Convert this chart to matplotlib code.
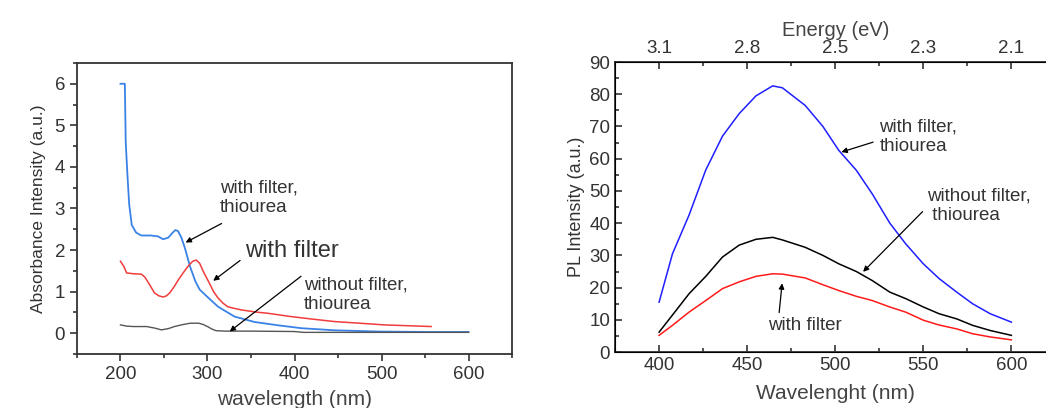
import numpy as np
import matplotlib.pyplot as plt
from matplotlib.ticker import MultipleLocator

plt.rcParams['font.family'] = ['Liberation Sans', 'DejaVu Sans']

# absorbance spectra (left panel)
wl_blue = [200, 205, 206, 208, 210, 213, 218, 224, 235, 243, 249, 255, 260, 263, 266, 270, 274,
           280, 286, 291, 299, 312, 331, 354, 381, 408, 446, 496, 550, 600]
abs_blue = [6.0, 6.0, 4.6, 3.8, 3.1, 2.6, 2.42, 2.35, 2.35, 2.33, 2.26, 2.3, 2.42, 2.48, 2.46, 2.3, 2.05,
            1.6, 1.25, 1.05, 0.89, 0.64, 0.4, 0.27, 0.19, 0.12, 0.07, 0.04, 0.03, 0.03]

wl_red = [200, 204, 207, 215, 224, 228, 234, 239, 244, 249, 253, 257, 262, 267, 272, 278, 283, 287,
          291, 296, 302, 307, 312, 318, 323, 330, 339, 355, 369, 396, 420, 446, 475, 503, 530, 557]
abs_red = [1.73, 1.6, 1.45, 1.43, 1.42, 1.35, 1.15, 0.97, 0.9, 0.87, 0.9, 0.98, 1.13, 1.3, 1.45, 1.62,
           1.73, 1.76, 1.68, 1.45, 1.21, 1.0, 0.85, 0.72, 0.64, 0.6, 0.56, 0.51, 0.48, 0.4, 0.34, 0.28,
           0.24, 0.2, 0.18, 0.16]

wl_gray = [200, 207, 215, 230, 240, 247, 255, 262, 270, 280, 290, 295, 300, 305, 310, 320, 350,
           400, 410, 500, 600]
abs_gray = [0.2, 0.17, 0.16, 0.16, 0.12, 0.08, 0.11, 0.16, 0.2, 0.24, 0.24, 0.21, 0.16, 0.1, 0.06,
            0.05, 0.05, 0.04, 0.02, 0.02, 0.02]

# PL spectra (right panel)
wl_pl = [400, 407.6, 417, 426.5, 436, 445.5, 455, 464.5, 470, 483, 493, 502, 512, 521, 531, 540,
         550, 559, 569, 578, 588, 600]
pl_blue = [15.5, 30.5, 42.5, 56.5, 67.0, 74.0, 79.5, 82.6, 82.0, 76.5, 70.0, 62.6, 56.4, 49.1, 40.0,
           33.6, 27.4, 22.8, 18.6, 15.0, 11.9, 9.3]
pl_black = [6.2, 11.5, 18.1, 23.5, 29.5, 33.2, 35.0, 35.6, 34.8, 32.5, 30.0, 27.4, 25.0, 22.2, 18.6,
            16.6, 14.0, 11.9, 10.3, 8.3, 6.7, 5.2]
pl_red = [5.2, 8.3, 12.4, 16.0, 19.7, 21.8, 23.5, 24.3, 24.2, 23.0, 20.9, 19.1, 17.3, 16.0, 14.0,
          12.4, 9.9, 8.4, 7.2, 5.7, 4.7, 3.8]

energy_pos = [400, 450, 500, 550, 600]
energy_labels = ['3.1', '2.8', '2.5', '2.3', '2.1']

fig = plt.figure(figsize=(10.46, 4.08), dpi=100)
txt = '#333333'

# ---- left: absorbance ----
ax1 = fig.add_axes([0.0736, 0.1324, 0.4159, 0.7132])
ax1.plot(wl_blue, abs_blue, color='#3b82e6', lw=1.3)
ax1.plot(wl_red, abs_red, color='#f03c3c', lw=1.1)
ax1.plot(wl_gray, abs_gray, color='#555555', lw=1.0)
ax1.set_xlim(150, 650)
ax1.set_ylim(-0.5, 6.5)
ax1.set_xticks([200, 300, 400, 500, 600])
ax1.set_yticks(range(0, 7))
ax1.xaxis.set_minor_locator(MultipleLocator(50))
ax1.yaxis.set_minor_locator(MultipleLocator(0.5))
ax1.tick_params(which='both', direction='out', labelsize=13.5, colors=txt)
ax1.tick_params(which='major', length=5, width=1.2)
ax1.tick_params(which='minor', length=3, width=1.2)
for s in ax1.spines.values():
    s.set_linewidth(1.3)
    s.set_color(txt)
ax1.set_xlabel('wavelength (nm)', fontsize=15, color='#444444', labelpad=5)
ax1.set_ylabel('Absorbance Intensity (a.u.)', fontsize=12.5, color=txt, labelpad=6)

arrow = dict(arrowstyle='-|>', color='black', lw=0.9, mutation_scale=8)
ax1.annotate('', xy=(272, 2.15), xytext=(319, 2.67), arrowprops=arrow)
ax1.text(314, 3.25, 'with filter,\nthiourea', fontsize=13.5, color=txt, va='center', linespacing=1.2)
ax1.annotate('', xy=(304, 1.22), xytext=(340, 1.79), arrowprops=arrow)
ax1.text(343, 1.97, 'with filter', fontsize=17, color=txt, va='center')
ax1.annotate('', xy=(323, 0.0), xytext=(410, 1.41), arrowprops=arrow)
ax1.text(411, 0.93, 'without filter,\nthiourea', fontsize=13.5, color=txt, va='center', linespacing=1.2)

# ---- right: PL ----
ax2 = fig.add_axes([0.588, 0.137, 0.421, 0.711])
ax2.plot(wl_pl, pl_blue, color='#1f1fff', lw=1.1)
ax2.plot(wl_pl, pl_black, color='black', lw=1.1)
ax2.plot(wl_pl, pl_red, color='#ff1a1a', lw=1.1)
ax2.set_xlim(375, 625)
ax2.set_ylim(0, 90)
ax2.set_xticks([400, 450, 500, 550, 600])
ax2.set_yticks(range(0, 91, 10))
ax2.xaxis.set_minor_locator(MultipleLocator(25))
ax2.yaxis.set_minor_locator(MultipleLocator(5))
ax2.tick_params(which='both', direction='in', labelsize=13.5, colors=txt)
ax2.tick_params(which='major', length=5, width=1.2)
ax2.tick_params(which='minor', length=3, width=1.2)
for s in ax2.spines.values():
    s.set_linewidth(1.3)
    s.set_color(txt)
ax2.set_xlabel('Wavelenght (nm)', fontsize=15, color='#444444', labelpad=7)
ax2.set_ylabel('PL Intensity (a.u.)', fontsize=13, color=txt, labelpad=3)

top = ax2.twiny()
top.set_xlim(ax2.get_xlim())
top.set_xticks(energy_pos)
top.set_xticklabels(energy_labels)
top.xaxis.set_minor_locator(MultipleLocator(25))
top.tick_params(which='both', direction='in', labelsize=13.5, colors=txt)
top.tick_params(which='major', length=5, width=1.2)
top.tick_params(which='minor', length=3, width=1.2)
top.set_xlabel('Energy (eV)', fontsize=14.5, color='#444444', labelpad=3)

ax2.annotate('', xy=(502, 61.8), xytext=(523, 65.4), arrowprops=arrow)
ax2.text(525, 66.8, 'with filter,\nthiourea', fontsize=13.5, color=txt, va='center', linespacing=1.2)
ax2.annotate('', xy=(514.7, 24.3), xytext=(550.7, 44.2), arrowprops=arrow)
ax2.text(552, 45.5, 'without filter,\n thiourea', fontsize=13.5, color=txt, va='center', linespacing=1.2)
ax2.annotate('', xy=(470, 22.2), xytext=(468, 11.4), arrowprops=arrow)
ax2.text(462, 8.3, 'with filter', fontsize=13.5, color=txt, va='center')

fig.savefig('out.png', dpi=100)
